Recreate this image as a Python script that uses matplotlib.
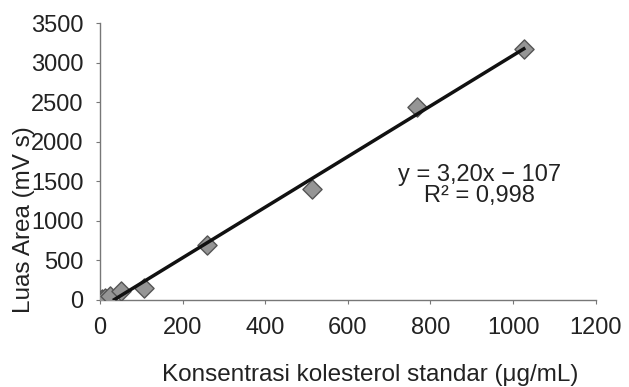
import matplotlib.pyplot as plt
import numpy as np

# Data kalibrasi kolesterol standar
konsentrasi = [6, 12, 25, 52, 107, 258, 514, 768, 1026]
luas_area = [15, 25, 45, 110, 155, 700, 1400, 2440, 3170]

slope = 3.20
intercept = -107
x_ticks = [0, 200, 400, 600, 800, 1000, 1200]
y_ticks = [0, 500, 1000, 1500, 2000, 2500, 3000, 3500]

plt.rcParams['font.family'] = ['Liberation Sans', 'DejaVu Sans']

fig = plt.figure(figsize=(6.29, 3.87), dpi=100)
ax = fig.add_axes([0.159, 0.225, 0.788, 0.715])

# Titik data
ax.scatter(konsentrasi, luas_area, marker='D', s=95, color='#959595',
           edgecolor='#555555', linewidth=1, zorder=3)

# Garis regresi
xl = np.array([35, max(konsentrasi)])
ax.plot(xl, slope * xl + intercept, color='#111111', linewidth=2.5, zorder=4)

ax.set_xlim(0, 1200)
ax.set_ylim(0, 3500)
ax.set_xticks(x_ticks)
ax.set_yticks(y_ticks)

for s in ['top', 'right']:
    ax.spines[s].set_visible(False)
for s in ['left', 'bottom']:
    ax.spines[s].set_color('#777777')
    ax.spines[s].set_linewidth(1)
ax.tick_params(direction='out', length=3, color='#777777', labelsize=17,
               labelcolor='#222222', pad=9)

ax.set_ylabel('Luas Area (mV s)', fontsize=17.5, color='#222222')
ax.yaxis.set_label_coords(-0.131, 0.29)
ax.set_xlabel('Konsentrasi kolesterol standar (μg/mL)', fontsize=17.5, color='#222222')
ax.xaxis.set_label_coords(0.546, -0.231)

ax.text(0.765, 0.415, 'y = 3,20x − 107\nR² = 0,998', transform=ax.transAxes,
        ha='center', va='center', fontsize=17, color='#222222', linespacing=0.95)

fig.savefig('out.png', dpi=100)
